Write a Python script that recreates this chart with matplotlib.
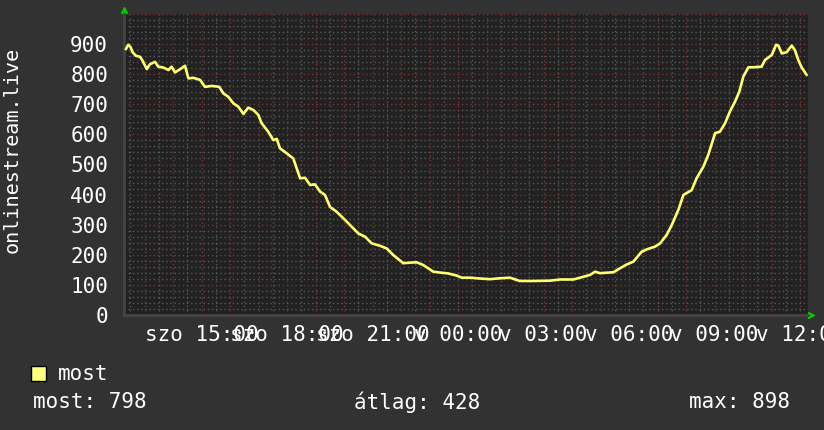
import numpy as np
import matplotlib
matplotlib.use("Agg")
import matplotlib.pyplot as plt
from matplotlib.patches import Rectangle

# hours since saturday 00:00, and the "most" series
hours = [12.35, 12.43, 12.51, 12.58, 12.70, 12.84, 12.92, 13.08, 13.19, 13.37,
         13.48, 13.66, 13.84, 13.95, 14.07, 14.24, 14.42, 14.54, 14.71, 14.95,
         15.12, 15.36, 15.62, 15.77, 15.94, 16.12, 16.29, 16.47, 16.64, 16.82,
         16.99, 17.11, 17.34, 17.52, 17.64, 17.75, 17.99, 18.22, 18.46, 18.63,
         18.81, 18.98, 19.16, 19.33, 19.51, 19.74, 19.98, 20.21, 20.50, 20.74,
         20.97, 21.26, 21.50, 21.73, 22.08, 22.32, 22.55, 22.78, 23.13, 23.37,
         23.66, 23.95, 24.13, 24.42, 24.65, 25.12, 25.47, 25.82, 26.17, 26.64,
         27.23, 27.58, 28.05, 28.40, 28.63, 28.81, 28.98, 29.45, 29.68, 29.92,
         30.15, 30.44, 30.62, 30.91, 31.09, 31.32, 31.50, 31.73, 31.91, 32.20,
         32.37, 32.61, 32.78, 33.02, 33.19, 33.37, 33.54, 33.72, 33.87, 34.01,
         34.19, 34.36, 34.65, 34.77, 35.01, 35.16, 35.24, 35.36, 35.53, 35.71,
         35.82, 35.94, 36.06, 36.23]
most = [884, 898, 890, 873, 861, 858, 847, 817, 833, 841,
        825, 822, 814, 825, 806, 816, 828, 786, 788, 781,
        758, 761, 758, 736, 725, 703, 692, 668, 689, 681,
        665, 637, 609, 581, 585, 554, 537, 520, 454, 456,
        432, 434, 410, 399, 359, 343, 321, 299, 271, 260,
        238, 230, 221, 199, 172, 174, 175, 166, 144, 141,
        138, 131, 124, 124, 122, 119, 122, 124, 113, 113,
        114, 118, 118, 127, 133, 144, 139, 142, 155, 168,
        177, 210, 218, 227, 238, 266, 299, 349, 399, 415,
        454, 493, 532, 604, 609, 637, 676, 709, 742, 792,
        823, 823, 825, 847, 864, 898, 895, 869, 873, 895,
        880, 847, 822, 798]

x_start, x_end = 12.28, 36.28
label_hours = [15, 18, 21, 24, 27, 30, 33, 36]
label_text = ["szo 15:00", "szo 18:00", "szo 21:00", "v 00:00",
              "v 03:00", "v 06:00", "v 09:00", "v 12:00"]
y_labels = [0, 100, 200, 300, 400, 500, 600, 700, 800, 900]

bg = "#323232"
canvas = "#212121"
minor_c = "#585858"
major_c = "#7a3535"
txt_c = "#ffffff"
line_c = "#ffff70"
font = "DejaVu Sans Mono"

W, H = 824, 430
fig = plt.figure(figsize=(W / 100, H / 100), dpi=100, facecolor=bg)
ax = fig.add_axes([124 / W, (H - 315) / H, 684 / W, 301 / H])
ax.set_facecolor(canvas)
ax.set_xlim(x_start, x_end)
ax.set_ylim(0, 1000)

# grid
dot = (0, (1, 2))
for h in np.arange(12.5, x_end, 0.5):
    if abs(h - round(h)) > 0.01:
        ax.axvline(h, color=minor_c, lw=1, ls=dot, zorder=1)
for v in range(20, 1001, 20):
    if v % 100:
        ax.axhline(v, color=minor_c, lw=1, ls=dot, zorder=1)
for h in range(13, 37):
    ax.axvline(h, color=major_c, lw=1, ls=dot, zorder=1.5)
for v in range(100, 1001, 100):
    ax.axhline(v, color=major_c, lw=1, ls=dot, zorder=1.5)

ax.plot(hours, most, color=line_c, lw=1.9, zorder=3)

# ticks
ax.set_xticks(label_hours)
ax.set_xticklabels(label_text)
ax.set_yticks(y_labels)
ax.set_yticklabels([str(v) for v in y_labels])
ax.tick_params(axis="x", length=0, pad=7, colors=txt_c, labelsize=15)
ax.tick_params(axis="y", length=0, pad=11.5, colors=txt_c, labelsize=15)
for lab in ax.get_xticklabels() + ax.get_yticklabels():
    lab.set_fontfamily(font)
for s in ax.spines.values():
    s.set_visible(False)
ax.spines["left"].set_visible(True)
ax.spines["bottom"].set_visible(True)
ax.spines["left"].set_color("#444444")
ax.spines["bottom"].set_color("#444444")
ax.spines["left"].set_linewidth(2)
ax.spines["bottom"].set_linewidth(2)

# axis arrows
ax.plot([0], [1.013], marker="^", color="#00cc00", ms=5, transform=ax.transAxes, clip_on=False)
ax.plot([1.004], [0], marker=">", color="#00cc00", ms=5, transform=ax.transAxes, clip_on=False)

# y title
fig.text(12 / W, 1 - 150 / H, "onlinestream.live", rotation=90, ha="center", va="center",
         color=txt_c, fontsize=14.5, fontfamily=font)

# legend
fig.patches.append(Rectangle((31 / W, 1 - 381 / H), 15 / W, 15 / H, transform=fig.transFigure,
                             facecolor="#ffff80", edgecolor="#000000", lw=1))
fig.text(58 / W, 1 - 374 / H, "most", ha="left", va="center", color=txt_c, fontsize=15, fontfamily=font)
fig.text(33 / W, 1 - 402 / H, "most: %d" % most[-1], ha="left", va="center", color=txt_c,
         fontsize=15, fontfamily=font)
fig.text(354 / W, 1 - 402 / H, "átlag: 428", ha="left", va="center", color=txt_c,
         fontsize=15, fontfamily=font)
fig.text(790 / W, 1 - 402 / H, "max: %d" % max(most), ha="right", va="center", color=txt_c,
         fontsize=15, fontfamily=font)

fig.savefig("out.png", dpi=100, facecolor=bg)
